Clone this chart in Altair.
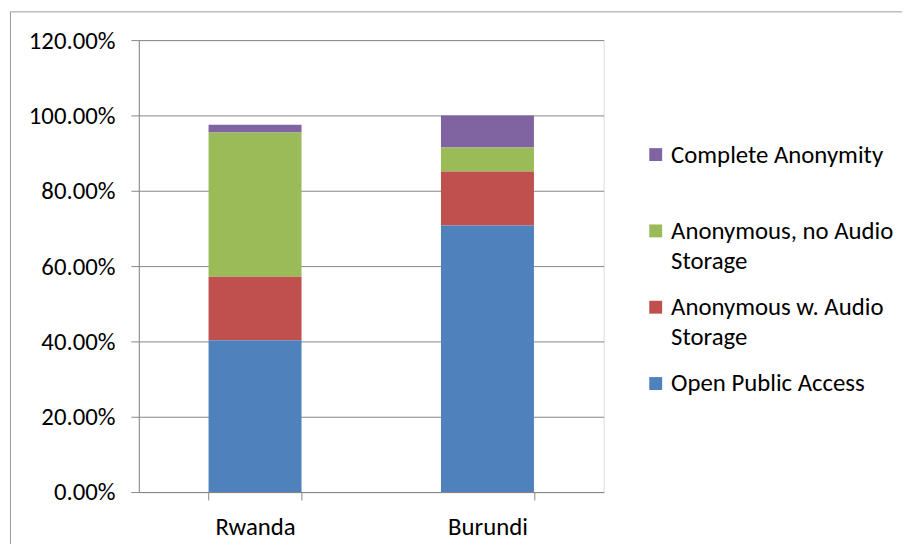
import altair as alt
import pandas as pd

countries = ["Rwanda", "Burundi"]
series = [
    "Complete Anonymity",
    "Anonymous, no Audio Storage",
    "Anonymous w. Audio Storage",
    "Open Public Access",
]
stack_rank = [3, 2, 1, 0]
colors = ["#8064A2", "#9BBB59", "#C0504D", "#4F81BD"]
rwanda = [0.020, 0.383, 0.169, 0.403]
burundi = [0.085, 0.064, 0.143, 0.708]
y_ticks = [0, 0.2, 0.4, 0.6, 0.8, 1.0, 1.2]

rows = []
for s, r, a, b in zip(series, stack_rank, rwanda, burundi):
    rows.append({"country": "Rwanda", "series": s, "rank": r, "value": a})
    rows.append({"country": "Burundi", "series": s, "rank": r, "value": b})
df = pd.DataFrame(rows)

FONT = "Carlito, Liberation Sans, Arial, sans-serif"
GRID = "#868686"

label_expr = (
    "datum.label == 'Anonymous, no Audio Storage' ? ['Anonymous, no Audio', 'Storage'] : "
    "datum.label == 'Anonymous w. Audio Storage' ? ['Anonymous w. Audio', 'Storage'] : "
    "[datum.label, '']"
)

bars = alt.Chart(df).mark_bar().encode(
    x=alt.X(
        "country:N",
        sort=countries,
        title=None,
        scale=alt.Scale(paddingInner=0.6, paddingOuter=0.3),
        axis=alt.Axis(
            labelAngle=0, tickBand="extent", tickSize=8, tickColor=GRID,
            domainColor=GRID, labelFontSize=25, labelPadding=15,
            labelColor="black", labelFont=FONT, grid=False,
        ),
    ),
    y=alt.Y(
        "value:Q",
        stack="zero",
        title=None,
        scale=alt.Scale(domain=[0, 1.2], nice=False),
        axis=alt.Axis(
            values=y_ticks, format=".2%", tickSize=8, tickColor=GRID,
            domainColor=GRID, gridColor=GRID, grid=True, labelFontSize=25,
            labelPadding=16, labelColor="black", labelFont=FONT,
        ),
    ),
    order=alt.Order("rank:Q", sort="ascending"),
    color=alt.Color(
        "series:N",
        scale=alt.Scale(domain=series, range=colors),
        legend=alt.Legend(
            title=None, orient="none", legendX=509, legendY=103,
            symbolType="square", symbolSize=169, symbolStrokeWidth=0,
            labelFont=FONT, labelFontSize=25, labelColor="black",
            labelLimit=400, labelOffset=3, labelBaseline="middle",
            rowPadding=21, padding=0,
            labelExpr=label_expr,
        ),
    ),
)

frame = alt.Chart(alt.Data(values=[{"f": 1}])).mark_rect(
    filled=False, stroke="#9a9a9a", strokeWidth=1
).encode(
    x=alt.value(-129.5), x2=alt.value(1000),
    y=alt.value(-28.5), y2=alt.value(700),
)

chart = alt.layer(frame, bars).properties(
    width=469,
    height=456,
    padding={"left": 132, "top": 30, "right": 301, "bottom": 50},
    autosize=alt.AutoSizeParams(type="none"),
).configure_view(stroke=None).configure(
    style={"guide-label": {"lineHeight": 30}}
)

chart.save("out.html", embed_options={"renderer": "svg", "actions": False})
